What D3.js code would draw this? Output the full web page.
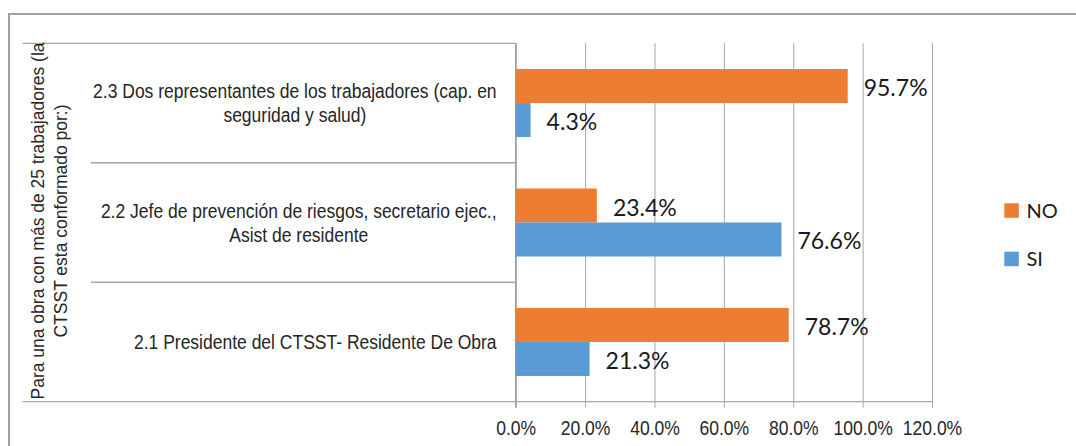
<!DOCTYPE html>
<html>
<head>
<meta charset="utf-8">
<script src="https://cdn.jsdelivr.net/npm/d3@7"></script>
<style>
  html, body { margin: 0; padding: 0; background: #fff; }
  svg { display: block; }
</style>
</head>
<body>
<svg id="chart" width="1076" height="446"></svg>
<script>
// ---- data ----
const categories = [
  "2.3 Dos representantes de los trabajadores (cap. en seguridad y salud)",
  "2.2 Jefe de prevención de riesgos, secretario ejec., Asist de residente",
  "2.1 Presidente del CTSST- Residente De Obra"
];
const seriesNames = ["NO", "SI"];
const noValues = [0.957, 0.234, 0.787];
const siValues = [0.043, 0.766, 0.213];
const xTicks = [0, 0.2, 0.4, 0.6, 0.8, 1.0, 1.2];
const axisTitle = "Para una obra con más de 25 trabajadores (la CTSST esta conformado por:)";
const colors = { NO: "#ED7D31", SI: "#5B9BD5" };

// ---- layout ----
const svg = d3.select("#chart");
const plot = { left: 515.7, right: 932, top: 43.3, bottom: 401.7 };
const gridColor = "#A6A6A6";
const labelFont = "'Liberation Sans', Arial, sans-serif";
const valueFont = "Lato, 'Open Sans', sans-serif";
const squeeze = 0.875;      // horizontal condensing of the Arial labels
const labelSize = 20;

const x = d3.scaleLinear().domain([0, 1.2]).range([plot.left, plot.right]);
const y = d3.scaleBand().domain(categories).range([plot.top, plot.bottom]).padding(0);
const ySub = d3.scaleBand().domain(seriesNames).range([0, y.bandwidth()]).paddingInner(0).paddingOuter(0.757);

// outer border (top & left visible)
svg.append("path")
  .attr("d", "M9,446 L9,14 L1076,14")
  .attr("fill", "none").attr("stroke", "#A0A0A0").attr("stroke-width", 2);

// gridlines + ticks via axis
const xAxis = d3.axisBottom(x).tickValues(xTicks).tickFormat(d3.format(".1%"))
  .tickSize(-(plot.bottom - plot.top)).tickPadding(0);
const gx = svg.append("g").attr("transform", `translate(0,${plot.bottom})`).call(xAxis);
gx.select(".domain").remove();
gx.selectAll(".tick line").attr("stroke", gridColor).attr("stroke-width", 1)
  .attr("y1", 6);
gx.selectAll(".tick text")
  .attr("font-family", labelFont).attr("font-size", labelSize).attr("fill", "#262626")
  .attr("dy", 0).attr("y", 33)
  .attr("transform", `scale(${squeeze},1)`);

// category separators
const bounds = [plot.top, ...categories.map(c => y(c) + y.bandwidth())];
bounds.forEach((b, i) => {
  const isEdge = (i === 0 || i === bounds.length - 1);
  svg.append("line")
    .attr("x1", isEdge ? 22.7 : 91).attr("x2", i === bounds.length - 1 ? plot.right : plot.left)
    .attr("y1", b).attr("y2", b)
    .attr("stroke", gridColor).attr("stroke-width", 1.3);
});
// vertical axis line
svg.append("line")
  .attr("x1", plot.left).attr("x2", plot.left)
  .attr("y1", plot.top).attr("y2", plot.bottom + 6)
  .attr("stroke", "#9A9A9A").attr("stroke-width", 1.3);

// bars
const rows = [];
categories.forEach((c, i) => {
  rows.push({ cat: c, s: "NO", v: noValues[i] });
  rows.push({ cat: c, s: "SI", v: siValues[i] });
});
svg.append("g").selectAll("rect").data(rows).join("rect")
  .attr("x", x(0))
  .attr("y", d => y(d.cat) + ySub(d.s))
  .attr("width", d => x(d.v) - x(0))
  .attr("height", ySub.bandwidth())
  .attr("fill", d => colors[d.s]);

// value labels
svg.append("g").selectAll("text").data(rows).join("text")
  .attr("x", d => x(d.v) + 16)
  .attr("y", d => y(d.cat) + ySub(d.s) + ySub.bandwidth() / 2 + 1)
  .attr("dominant-baseline", "central")
  .attr("font-family", valueFont).attr("font-size", 23).attr("fill", "#1a1a1a")
  .text(d => d3.format(".1%")(d.v));

// text measuring / wrapping helpers
const measurer = svg.append("text").attr("font-family", labelFont);
function width(s, size, sq) {
  measurer.attr("font-size", size).text(s);
  return measurer.node().getComputedTextLength() * sq;
}
function wrap(str, maxW, size, sq) {
  const words = str.split(" ");
  const lines = [];
  let cur = "";
  words.forEach(w => {
    const test = cur ? cur + " " + w : w;
    if (width(test, size, sq) > maxW && cur) { lines.push(cur); cur = w; }
    else cur = test;
  });
  if (cur) lines.push(cur);
  return lines;
}

// category labels
const lh = 23.8;
const rightEdge = plot.left - 19;
categories.forEach(c => {
  const lines = wrap(c, 420, labelSize, squeeze);
  const bw = d3.max(lines, l => width(l, labelSize, squeeze));
  const cx = rightEdge - bw / 2;
  const cy = y(c) + y.bandwidth() / 2;
  const t = svg.append("text").attr("font-family", labelFont).attr("font-size", labelSize)
    .attr("fill", "#262626").attr("text-anchor", "middle")
    .attr("transform", `translate(${cx},0) scale(${squeeze},1)`);
  lines.forEach((ln, i) => {
    t.append("tspan").attr("x", 0)
      .attr("y", cy - (lines.length - 1) * lh / 2 + 7.2 + i * lh)
      .text(ln);
  });
});

// rotated axis title
const titleLines = wrap(axisTitle, 368, 17.5, 1);
const tt = svg.append("text").attr("font-family", labelFont).attr("font-size", 17.5)
  .attr("fill", "#262626").attr("text-anchor", "middle")
  .attr("transform", "translate(0,221) rotate(-90)");
titleLines.forEach((ln, i) => {
  tt.append("tspan").attr("x", 0).attr("y", 44 + i * 22.5).text(ln);
});
measurer.remove();

// legend
const legY = [203.3, 251.7];
const lg = svg.append("g");
seriesNames.forEach((s, i) => {
  lg.append("rect").attr("x", 1004.3).attr("y", legY[i]).attr("width", 14.5).attr("height", 14.5)
    .attr("fill", colors[s]);
  lg.append("text").attr("x", 1026.5).attr("y", legY[i] + 14.3)
    .attr("font-family", valueFont).attr("font-size", 20).attr("fill", "#1a1a1a").text(s);
});
</script>
</body>
</html>
